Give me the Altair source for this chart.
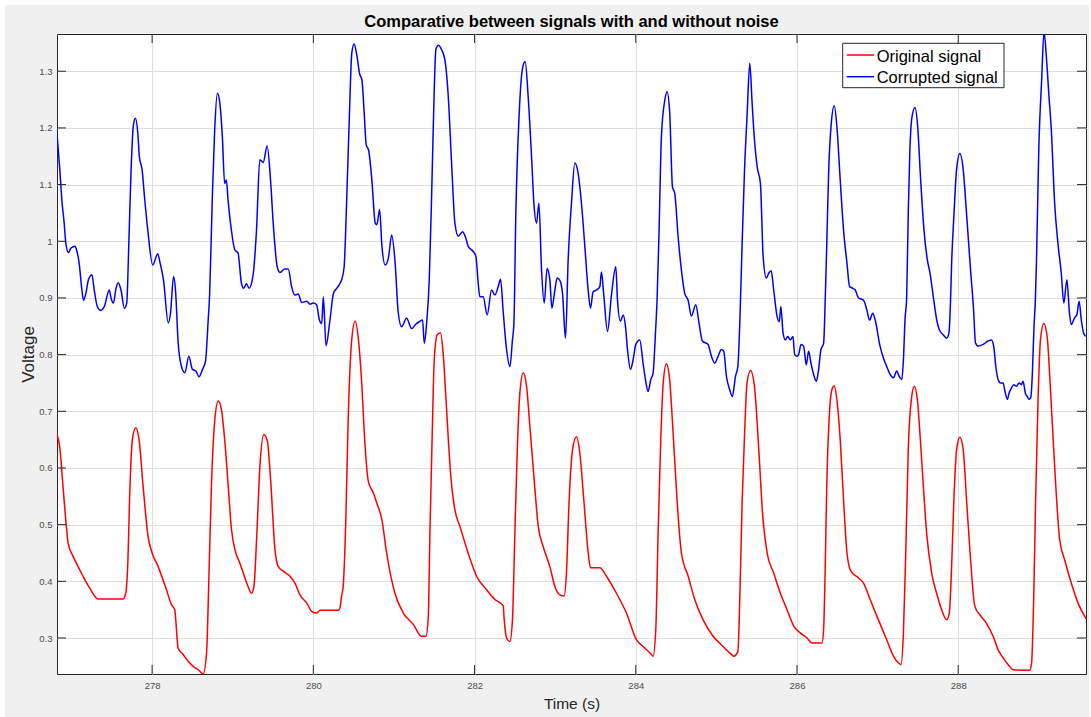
import altair as alt
import pandas as pd

# ---------------- data ----------------
red_t = [276.81, 276.853, 276.894, 276.936, 276.957, 277.019, 277.06, 277.143, 277.226, 277.33,
         277.64, 277.673, 277.70, 277.72, 277.755, 277.797, 277.838, 277.888, 277.95, 278.0,
         278.075, 278.178, 278.24, 278.28, 278.323, 278.385, 278.447, 278.51, 278.571, 278.634,
         278.675, 278.708, 278.737, 278.778, 278.82, 278.86, 278.90, 278.944, 278.985, 279.027,
         279.089, 279.13, 279.19, 279.234, 279.263, 279.296, 279.337, 279.387, 279.43, 279.47,
         279.524, 279.565, 279.627, 279.71, 279.772, 279.834, 279.917, 279.98, 280.04, 280.083,
         280.31, 280.33, 280.35, 280.37, 280.404, 280.43, 280.476, 280.518, 280.56, 280.60,
         280.642, 280.683, 280.745, 280.787, 280.85, 280.909, 281.012, 281.116, 281.24, 281.343,
         281.397, 281.426, 281.446, 281.475, 281.5, 281.537, 281.578, 281.61, 281.653, 281.702,
         281.756, 281.818, 281.92, 282.025, 282.15, 282.252, 282.355, 282.368, 282.397, 282.438,
         282.47, 282.5, 282.53, 282.562, 282.603, 282.645, 282.686, 282.736, 282.79, 282.85,
         282.934, 282.996, 283.058, 283.11, 283.14, 283.17, 283.215, 283.264, 283.306, 283.355,
         283.41, 283.438, 283.554, 283.636, 283.76, 283.884, 284.008, 284.09, 284.174, 284.215,
         284.248, 284.277, 284.306, 284.34, 284.38, 284.42, 284.463, 284.517, 284.566, 284.65,
         284.731, 284.835, 284.959, 285.083, 285.186, 285.216, 285.266, 285.29, 285.32, 285.35,
         285.38, 285.423, 285.472, 285.526, 285.575, 285.629, 285.71, 285.794, 285.876, 285.96,
         286.04, 286.124, 286.186, 286.31, 286.33, 286.35, 286.37, 286.4, 286.433, 286.462,
         286.495, 286.536, 286.577, 286.62, 286.668, 286.763, 286.825, 286.907, 287.01, 287.113,
         287.196, 287.258, 287.29, 287.32, 287.35, 287.38, 287.423, 287.456, 287.493, 287.546,
         287.608, 287.67, 287.732, 287.794, 287.856, 287.889, 287.918, 287.946, 287.98, 288.02,
         288.062, 288.103, 288.153, 288.206, 288.268, 288.35, 288.433, 288.495, 288.557, 288.62,
         288.68, 288.887, 288.91, 288.936, 288.96, 288.99, 289.02, 289.062, 289.103, 289.14,
         289.196, 289.258, 289.32, 289.402, 289.485, 289.588]
red_v = [0.662, 0.638, 0.568, 0.497, 0.468, 0.444, 0.432, 0.409, 0.388, 0.369,
         0.369, 0.379, 0.438, 0.544, 0.65, 0.671, 0.65, 0.568, 0.479, 0.45,
         0.426, 0.385, 0.359, 0.35, 0.282, 0.271, 0.259, 0.25, 0.244, 0.237,
         0.273, 0.426, 0.574, 0.685, 0.718, 0.703, 0.65, 0.568, 0.491, 0.456,
         0.432, 0.415, 0.391, 0.379, 0.391, 0.474, 0.603, 0.659, 0.647, 0.579,
         0.456, 0.426, 0.418, 0.409, 0.397, 0.376, 0.362, 0.347, 0.344, 0.349,
         0.349, 0.353, 0.374, 0.391, 0.515, 0.674, 0.826, 0.859, 0.826, 0.75,
         0.638, 0.576, 0.556, 0.538, 0.509, 0.45, 0.379, 0.344, 0.324, 0.303,
         0.303, 0.338, 0.485, 0.662, 0.791, 0.835, 0.838, 0.803, 0.703, 0.591,
         0.526, 0.497, 0.45, 0.409, 0.385, 0.368, 0.357, 0.332, 0.3, 0.294,
         0.332, 0.485, 0.632, 0.732, 0.768, 0.744, 0.674, 0.585, 0.497, 0.462,
         0.426, 0.391, 0.376, 0.374, 0.415, 0.532, 0.632, 0.655, 0.626, 0.544,
         0.45, 0.424, 0.424, 0.409, 0.379, 0.344, 0.297, 0.285, 0.274, 0.268,
         0.315, 0.485, 0.632, 0.75, 0.784, 0.756, 0.662, 0.532, 0.45, 0.409,
         0.368, 0.332, 0.303, 0.285, 0.271, 0.268, 0.276, 0.368, 0.544, 0.662,
         0.75, 0.772, 0.744, 0.632, 0.515, 0.45, 0.415, 0.379, 0.35, 0.321,
         0.309, 0.3, 0.291, 0.291, 0.315, 0.426, 0.574, 0.691, 0.738, 0.745,
         0.72, 0.65, 0.544, 0.45, 0.418, 0.406, 0.397, 0.368, 0.332, 0.297,
         0.268, 0.256, 0.253, 0.309, 0.456, 0.632, 0.726, 0.744, 0.72, 0.615,
         0.485, 0.415, 0.379, 0.35, 0.332, 0.344, 0.426, 0.544, 0.632, 0.654,
         0.632, 0.544, 0.438, 0.356, 0.341, 0.326, 0.303, 0.279, 0.265, 0.253,
         0.244, 0.243, 0.256, 0.368, 0.544, 0.72, 0.826, 0.855, 0.832, 0.75,
         0.603, 0.474, 0.438, 0.397, 0.362, 0.334]

blue_t = [276.805, 276.826, 276.855, 276.88, 276.909, 276.93, 276.963, 276.992, 277.046, 277.062,
          277.095, 277.129, 277.149, 277.178, 277.21, 277.253, 277.282, 277.32, 277.365, 277.407,
          277.469, 277.49, 277.52, 277.552, 277.58, 277.614, 277.656, 277.685, 277.71, 277.739,
          277.768, 277.793, 277.822, 277.842, 277.876, 277.905, 277.946, 278.008, 278.07, 278.1,
          278.141, 278.2, 278.228, 278.266, 278.29, 278.323, 278.364, 278.406, 278.455, 278.5,
          278.542, 278.584, 278.625, 278.662, 278.696, 278.714, 278.747, 278.776, 278.81, 278.838,
          278.871, 278.9, 278.921, 278.942, 278.983, 279.025, 279.066, 279.108, 279.137, 279.17,
          279.203, 279.253, 279.295, 279.336, 279.378, 279.427, 279.469, 279.502, 279.552, 279.585,
          279.647, 279.689, 279.73, 279.772, 279.813, 279.855, 279.917, 279.959, 280.0, 280.04,
          280.075, 280.104, 280.124, 280.157, 280.207, 280.249, 280.29, 280.332, 280.353, 280.382,
          280.415, 280.448, 280.477, 280.506, 280.539, 280.573, 280.602, 280.631, 280.656, 280.685,
          280.726, 280.768, 280.788, 280.822, 280.851, 280.892, 280.934, 280.971, 281.012, 281.054,
          281.095, 281.157, 281.219, 281.273, 281.314, 281.355, 281.376, 281.405, 281.438, 281.467,
          281.488, 281.52, 281.55, 281.591, 281.632, 281.674, 281.715, 281.756, 281.798, 281.851,
          281.893, 281.921, 281.983, 282.017, 282.045, 282.066, 282.107, 282.157, 282.211, 282.252,
          282.293, 282.322, 282.355, 282.397, 282.438, 282.47, 282.488, 282.512, 282.554, 282.595,
          282.628, 282.665, 282.707, 282.736, 282.769, 282.798, 282.831, 282.864, 282.9, 282.934,
          282.959, 282.996, 283.025, 283.058, 283.091, 283.128, 283.161, 283.202, 283.244, 283.285,
          283.326, 283.368, 283.409, 283.438, 283.471, 283.512, 283.554, 283.574, 283.603, 283.649,
          283.698, 283.752, 283.773, 283.81, 283.843, 283.872, 283.897, 283.934, 283.967, 284.0,
          284.05, 284.09, 284.12, 284.153, 284.186, 284.215, 284.244, 284.264, 284.289, 284.318,
          284.36, 284.388, 284.421, 284.455, 284.483, 284.525, 284.566, 284.607, 284.649, 284.69,
          284.744, 284.785, 284.826, 284.897, 284.938, 284.979, 285.021, 285.062, 285.091, 285.124,
          285.165, 285.198, 285.237, 285.266, 285.29, 285.32, 285.35, 285.38, 285.414, 285.443,
          285.472, 285.505, 285.546, 285.58, 285.62, 285.65, 285.68, 285.711, 285.753, 285.78,
          285.8, 285.827, 285.856, 285.885, 285.918, 285.95, 285.971, 286.0, 286.02, 286.05,
          286.082, 286.115, 286.144, 286.173, 286.206, 286.24, 286.268, 286.297, 286.33, 286.35,
          286.37, 286.392, 286.425, 286.462, 286.495, 286.536, 286.577, 286.62, 286.652, 286.693,
          286.722, 286.763, 286.825, 286.866, 286.9, 286.94, 286.97, 287.03, 287.072, 287.113,
          287.155, 287.196, 287.237, 287.266, 287.3, 287.32, 287.34, 287.36, 287.38, 287.40,
          287.427, 287.464, 287.497, 287.534, 287.575, 287.617, 287.65, 287.691, 287.732, 287.765,
          287.814, 287.856, 287.884, 287.905, 287.918, 287.946, 287.979, 288.02, 288.062, 288.103,
          288.153, 288.19, 288.214, 288.247, 288.31, 288.37, 288.412, 288.44, 288.466, 288.495,
          288.524, 288.557, 288.58, 288.61, 288.63, 288.66, 288.689, 288.722, 288.755, 288.784,
          288.804, 288.833, 288.858, 288.878, 288.9, 288.92, 288.94, 288.957, 288.97, 289.0,
          289.035, 289.064, 289.093, 289.126, 289.155, 289.196, 289.237, 289.278, 289.31, 289.348,
          289.38, 289.402, 289.443, 289.472, 289.5, 289.526, 289.555, 289.58]
blue_v = [1.211, 1.179, 1.126, 1.073, 1.032, 0.996, 0.98, 0.988, 0.991, 0.985,
          0.961, 0.914, 0.896, 0.908, 0.932, 0.941, 0.914, 0.885, 0.878, 0.885,
          0.914, 0.9, 0.891, 0.917, 0.927, 0.914, 0.882, 0.891, 0.991, 1.126,
          1.205, 1.217, 1.191, 1.149, 1.126, 1.079, 1.02, 0.958, 0.978, 0.961,
          0.932, 0.856, 0.873, 0.938, 0.914, 0.821, 0.779, 0.768, 0.797, 0.774,
          0.771, 0.761, 0.774, 0.788, 0.862, 0.908, 1.079, 1.196, 1.261, 1.246,
          1.185, 1.102, 1.108, 1.073, 1.02, 0.985, 0.979, 0.926, 0.917, 0.925,
          0.917, 0.941, 1.02, 1.144, 1.139, 1.168, 1.108, 1.032, 0.955, 0.945,
          0.951, 0.951, 0.92, 0.905, 0.907, 0.892, 0.894, 0.889, 0.891, 0.888,
          0.861, 0.855, 0.902, 0.816, 0.862, 0.908, 0.917, 0.926, 0.933, 0.955,
          1.079, 1.226, 1.332, 1.348, 1.329, 1.296, 1.285, 1.226, 1.17, 1.161,
          1.108, 1.032, 1.029, 1.056, 0.991, 0.958, 0.973, 1.011, 0.967, 0.873,
          0.849, 0.864, 0.846, 0.854, 0.858, 0.861, 0.82, 0.855, 0.932, 1.079,
          1.202, 1.338, 1.346, 1.338, 1.32, 1.255, 1.138, 1.032, 1.009, 1.017,
          1.005, 0.991, 0.982, 0.973, 0.926, 0.902, 0.902, 0.87, 0.914, 0.905,
          0.92, 0.933, 0.876, 0.809, 0.779, 0.826, 0.855, 1.049, 1.226, 1.305,
          1.317, 1.255, 1.149, 1.067, 1.032, 1.067, 0.949, 0.891, 0.952, 0.932,
          0.882, 0.914, 0.935, 0.931, 0.908, 0.829, 0.967, 1.067, 1.138, 1.12,
          1.067, 0.991, 0.914, 0.882, 0.911, 0.914, 0.92, 0.946, 0.905, 0.841,
          0.905, 0.955, 0.896, 0.859, 0.87, 0.85, 0.809, 0.774, 0.791, 0.818,
          0.826, 0.785, 0.756, 0.735, 0.756, 0.768, 0.838, 0.897, 1.02, 1.185,
          1.249, 1.264, 1.226, 1.096, 1.085, 1.008, 0.949, 0.908, 0.896, 0.868,
          0.888, 0.855, 0.824, 0.818, 0.797, 0.785, 0.797, 0.809, 0.806, 0.762,
          0.738, 0.726, 0.762, 0.779, 0.855, 1.0, 1.13, 1.22, 1.314, 1.244,
          1.179, 1.132, 1.102, 0.973, 0.935, 0.944, 0.948, 0.914, 0.867, 0.858,
          0.885, 0.838, 0.826, 0.832, 0.826, 0.832, 0.8, 0.797, 0.8, 0.818,
          0.815, 0.782, 0.806, 0.785, 0.765, 0.753, 0.774, 0.809, 0.82, 0.897,
          1.0, 1.12, 1.208, 1.239, 1.202, 1.108, 1.02, 0.961, 0.92, 0.917,
          0.914, 0.9, 0.896, 0.879, 0.861, 0.873, 0.861, 0.815, 0.794, 0.779,
          0.765, 0.759, 0.771, 0.762, 0.756, 0.791, 0.862, 0.9, 1.05, 1.16,
          1.22, 1.236, 1.202, 1.108, 1.02, 0.967, 0.944, 0.902, 0.862, 0.844,
          0.835, 0.829, 0.838, 0.897, 0.961, 1.044, 1.126, 1.155, 1.126, 1.049,
          0.949, 0.88, 0.821, 0.815, 0.818, 0.824, 0.826, 0.815, 0.779, 0.756,
          0.75, 0.75, 0.735, 0.721, 0.732, 0.741, 0.747, 0.744, 0.75, 0.747,
          0.753, 0.732, 0.726, 0.721, 0.724, 0.768, 0.85, 0.897, 0.961, 1.167,
          1.285, 1.37, 1.326, 1.255, 1.196, 1.067, 0.996, 0.944, 0.891, 0.932,
          0.873, 0.853, 0.865, 0.871, 0.894, 0.862, 0.838, 0.832]

x_ticks = [278, 280, 282, 284, 286, 288]
y_ticks = [0.3, 0.4, 0.5, 0.6, 0.7, 0.8, 0.9, 1.0, 1.1, 1.2, 1.3]
series_names = ["Original signal", "Corrupted signal"]
series_colors = ["#ff0000", "#0000ff"]
title_text = "Comparative between signals with and without noise"

# ---------------- layout ----------------
W, H = 1029, 640
X_DOMAIN = [276.82, 289.585]
Y_DOMAIN = [0.2365, 1.3657]
FONT = "Liberation Sans"
DARK = "#262626"

df = pd.concat([
    pd.DataFrame({"t": red_t, "v": red_v, "series": series_names[0]}),
    pd.DataFrame({"t": blue_t, "v": blue_v, "series": series_names[1]}),
], ignore_index=True)

xs = alt.Scale(domain=X_DOMAIN, nice=False, zero=False)
ys = alt.Scale(domain=Y_DOMAIN, nice=False, zero=False)

x_axis = alt.Axis(values=x_ticks, format="d", title="Time (s)", grid=True, gridColor="#dedede",
                  domain=False, ticks=False, labelFontSize=9.5, labelColor="#4d4d4d", labelFont=FONT,
                  labelPadding=6, labelFlush=False, titleFont=FONT, titleFontSize=15.5,
                  titleFontWeight="normal", titleColor=DARK, titleX=W / 2, titleY=29,
                  titleBaseline="middle", titleAlign="center")
y_axis = alt.Axis(values=y_ticks, format="~g", title="Voltage", grid=True, gridColor="#dedede",
                  domain=False, ticks=False, labelFontSize=9.5, labelColor="#4d4d4d", labelFont=FONT,
                  labelPadding=5, titleFont=FONT, titleFontSize=17, titleFontWeight="normal",
                  titleColor=DARK, titleX=-28.5, titleY=H / 2, titleAngle=270,
                  titleBaseline="middle", titleAlign="center")

X_ENC = alt.X("t:Q", scale=xs, axis=x_axis)
Y_ENC = alt.Y("v:Q", scale=ys, axis=y_axis)

lines = alt.Chart(df).mark_line(strokeWidth=1.5, clip=True, interpolate="monotone").encode(
    x=X_ENC,
    y=Y_ENC,
    color=alt.Color("series:N", scale=alt.Scale(domain=series_names, range=series_colors), legend=None),
)

xt = pd.DataFrame({"t": x_ticks})
yt = pd.DataFrame({"v": y_ticks})
TL = 9
xb = alt.Chart(xt).mark_rule(color=DARK, strokeWidth=1).encode(
    x=X_ENC, y=alt.value(H), y2=alt.value(H - TL))
xtp = alt.Chart(xt).mark_rule(color=DARK, strokeWidth=1).encode(
    x=X_ENC, y=alt.value(0), y2=alt.value(TL))
yl = alt.Chart(yt).mark_rule(color=DARK, strokeWidth=1).encode(
    y=Y_ENC, x=alt.value(0), x2=alt.value(TL))
yr = alt.Chart(yt).mark_rule(color=DARK, strokeWidth=1).encode(
    y=Y_ENC, x=alt.value(W), x2=alt.value(W - TL))

one = pd.DataFrame({"k": [0]})
legend_box = alt.Chart(one).mark_rect(fill="white", stroke=DARK, strokeWidth=1).encode(
    x=alt.value(785.7), x2=alt.value(947), y=alt.value(9.3), y2=alt.value(53.7))
legend_layers = [legend_box]
for i, (name, col) in enumerate(zip(series_names, series_colors)):
    legend_layers.append(alt.Chart(one).mark_rule(color=col, strokeWidth=1.5).encode(
        x=alt.value(789.7), x2=alt.value(817), y=alt.value(21 + 21.7 * i)))
    legend_layers.append(alt.Chart(one).mark_text(
        text=name, align="left", baseline="alphabetic", font=FONT, fontSize=16.5, color="black").encode(
        x=alt.value(819.7), y=alt.value(27.7 + 21.6 * i)))

title = alt.Chart(one).mark_text(
    text=title_text, align="center", baseline="alphabetic", font=FONT, fontSize=16.5,
    fontWeight="bold", color="black").encode(x=alt.value(W / 2), y=alt.value(-7.3))

white_border = alt.Chart(one).mark_rect(fill="white", fillOpacity=0, stroke="white", strokeWidth=10,
                                        clip=False).encode(
    x=alt.value(-57), x2=alt.value(1037), y=alt.value(-34), y2=alt.value(696))

chart = alt.layer(lines, xb, xtp, yl, yr, *legend_layers, title, white_border).properties(
    width=W, height=H,
    autosize=alt.AutoSizeParams(type="none"),
    padding={"left": 57, "top": 34, "right": 5, "bottom": 43},
    background="#f0f0f0",
).configure_view(stroke=DARK, strokeWidth=1, fill="white")

chart.save("out.html", embed_options={"renderer": "svg", "actions": False})
